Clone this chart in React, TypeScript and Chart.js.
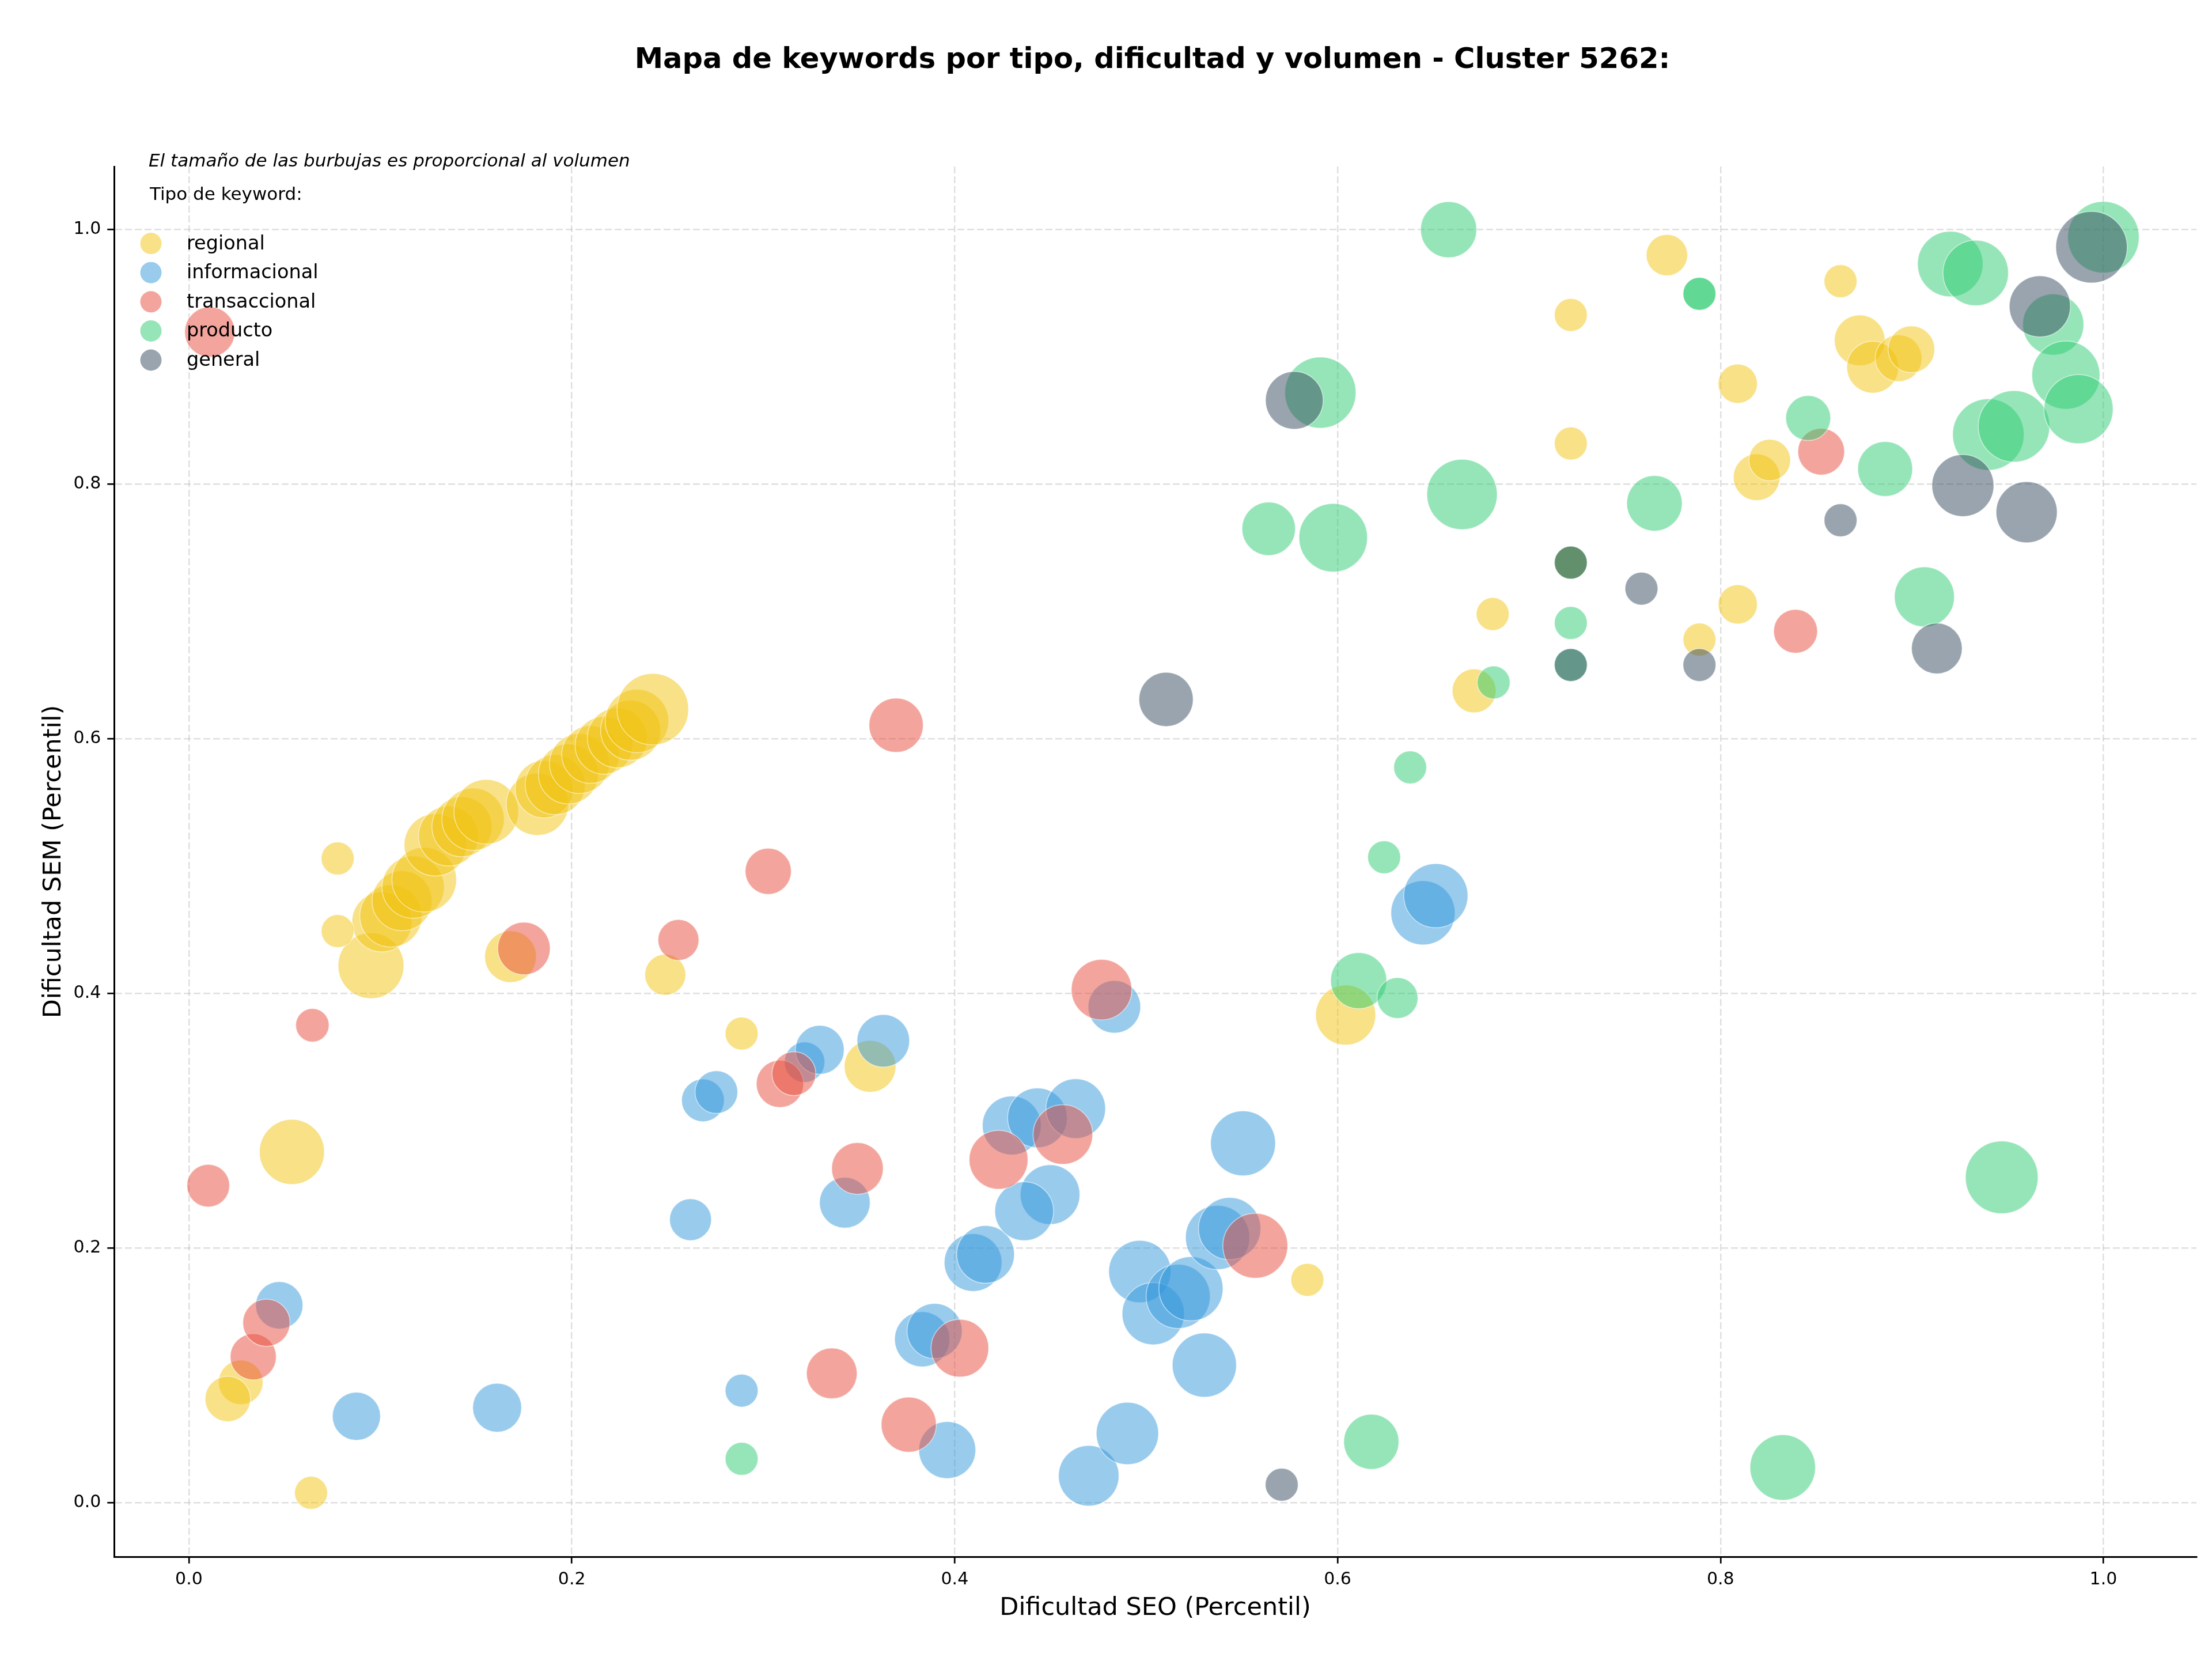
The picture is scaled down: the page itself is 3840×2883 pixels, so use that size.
import React, { useEffect, useRef } from 'react';
import { Chart, registerables } from 'chart.js';

Chart.register(...registerables);

const TITLE = 'Mapa de keywords por tipo, dificultad y volumen - Cluster 5262:';
const X_LABEL = 'Dificultad SEO (Percentil)';
const Y_LABEL = 'Dificultad SEM (Percentil)';
const NOTE = 'El tamaño de las burbujas es proporcional al volumen';
const LEGEND_TITLE = 'Tipo de keyword:';
const TICKS = [0, 0.2, 0.4, 0.6, 0.8, 1.0];
const CATEGORIES = ['regional', 'informacional', 'transaccional', 'producto', 'general'];
const COLORS = ['#F1C40F', '#3498DB', '#E74C3C', '#2ECC71', '#34495E'];

// regional
const regionalX = [0.0951, 0.1008, 0.1055, 0.1113, 0.1171, 0.1229, 0.1287, 0.1356, 0.1426, 0.1484, 0.1553, 0.182, 0.1855, 0.1913, 0.1982, 0.204, 0.2098, 0.2168, 0.2238, 0.2307, 0.234, 0.2423,
  0.0777, 0.0777, 0.168, 0.2488, 0.2887, 0.0538, 0.0271, 0.0203, 0.0638, 0.3558, 0.5842, 0.6042, 0.6713, 0.681, 0.7218, 0.7218, 0.7218, 0.772, 0.789, 0.809, 0.809, 0.8189, 0.8257, 0.8627, 0.8727, 0.8795, 0.893, 0.8997];
const regionalY = [0.4218, 0.4562, 0.4609, 0.4728, 0.4835, 0.4893, 0.5167, 0.5237, 0.5309, 0.5368, 0.5427, 0.5486, 0.5605, 0.564, 0.5724, 0.5806, 0.5877, 0.5949, 0.6008, 0.6067, 0.614, 0.6233,
  0.506, 0.449, 0.4289, 0.4147, 0.3685, 0.2755, 0.0945, 0.0815, 0.0077, 0.3427, 0.175, 0.383, 0.6377, 0.698, 0.7384, 0.832, 0.933, 0.98, 0.678, 0.879, 0.7056, 0.8055, 0.819, 0.9595, 0.913, 0.892, 0.899, 0.906];
const regionalVol = [400, 333, 359, 333, 359, 386, 359, 333, 333, 359, 386, 359, 308, 333, 333, 333, 308, 308, 333, 333, 372, 473,
  100, 100, 247, 155, 100, 390, 183, 191, 100, 247, 100, 333, 178, 100, 100, 100, 100, 158, 100, 142, 142, 202, 160, 100, 238, 249, 202, 202];

// informacional
const informacionalX = [0.0472, 0.0875, 0.161, 0.262, 0.2685, 0.2755, 0.2887, 0.3216, 0.3295, 0.3627, 0.3426, 0.383, 0.3895, 0.3961, 0.4096, 0.4161, 0.4298, 0.4432, 0.4632, 0.4498, 0.4363, 0.47, 0.4834, 0.4902, 0.4967, 0.5037, 0.5167, 0.5234, 0.5304, 0.5373, 0.5436, 0.5506, 0.6446, 0.6513];
const informacionalY = [0.155, 0.0678, 0.0746, 0.2223, 0.316, 0.3225, 0.088, 0.346, 0.3557, 0.3628, 0.2356, 0.1283, 0.1348, 0.0413, 0.1886, 0.195, 0.2963, 0.3023, 0.3095, 0.242, 0.2289, 0.0211, 0.3895, 0.0543, 0.1815, 0.1484, 0.162, 0.168, 0.108, 0.2083, 0.2153, 0.2822, 0.4633, 0.4768];
const informacionalVol = [207, 214, 221, 162, 169, 169, 100, 151, 221, 255, 238, 281, 281, 300, 308, 308, 320, 329, 329, 329, 320, 339, 255, 359, 359, 359, 381, 381, 381, 381, 359, 390, 381, 381];

// transaccional
const transaccionalX = [0.0101, 0.0109, 0.0336, 0.0405, 0.0645, 0.175, 0.2557, 0.3026, 0.3087, 0.316, 0.3358, 0.3492, 0.3694, 0.376, 0.4027, 0.4229, 0.4565, 0.4767, 0.557, 0.8392, 0.8526];
const transaccionalY = [0.249, 0.9196, 0.1145, 0.1413, 0.375, 0.4353, 0.442, 0.496, 0.329, 0.337, 0.1015, 0.2625, 0.6107, 0.0613, 0.1213, 0.2693, 0.2892, 0.403, 0.2018, 0.6845, 0.8256];
const transaccionalVol = [169, 234, 197, 207, 103, 255, 155, 197, 207, 178, 238, 247, 272, 281, 308, 320, 329, 339, 390, 178, 202];

// producto
const productoX = [0.2887, 0.564, 0.591, 0.5977, 0.611, 0.6176, 0.6243, 0.6313, 0.6379, 0.658, 0.665, 0.6815, 0.7218, 0.7218, 0.7218, 0.7655, 0.789, 0.789, 0.8325, 0.8458, 0.886, 0.9065, 0.92, 0.9333, 0.9399, 0.9469, 0.9533, 0.9738, 0.9804, 0.987, 1.0];
const productoY = [0.0344, 0.765, 0.872, 0.758, 0.41, 0.0478, 0.507, 0.3964, 0.5776, 1.0, 0.792, 0.6443, 0.691, 0.7384, 0.658, 0.785, 0.9496, 0.9496, 0.0276, 0.852, 0.812, 0.7115, 0.973, 0.966, 0.839, 0.2555, 0.8455, 0.9255, 0.8857, 0.859, 0.994];
const productoVol = [100, 264, 469, 434, 291, 281, 100, 155, 100, 291, 458, 100, 100, 100, 100, 284, 100, 100, 397, 187, 278, 333, 397, 397, 473, 489, 473, 346, 429, 443, 473];

// general
const generalX = [0.5104, 0.5708, 0.5774, 0.7218, 0.7218, 0.7587, 0.789, 0.8627, 0.913, 0.9266, 0.9599, 0.9668, 0.9938];
const generalY = [0.631, 0.0141, 0.8659, 0.7384, 0.658, 0.718, 0.658, 0.7717, 0.671, 0.799, 0.778, 0.9397, 0.9862];
const generalVol = [272, 100, 308, 100, 100, 100, 100, 100, 238, 355, 346, 346, 473];

const SERIES_X = [regionalX, informacionalX, transaccionalX, productoX, generalX];
const SERIES_Y = [regionalY, informacionalY, transaccionalY, productoY, generalY];
const SERIES_VOL = [regionalVol, informacionalVol, transaccionalVol, productoVol, generalVol];

const W = 3840;
const H = 2883;
const FONT = "'DejaVu Sans', sans-serif";

function rgba(hex: string, a: number) {
  const n = parseInt(hex.slice(1), 16);
  return `rgba(${(n >> 16) & 255},${(n >> 8) & 255},${n & 255},${a})`;
}

const volToRadius = (v: number) => 2.85 * Math.sqrt(v);

const textPlugin = {
  id: 'texts',
  afterDraw(chart: any) {
    const ctx = chart.ctx;
    const area = chart.chartArea;
    ctx.save();
    ctx.fillStyle = '#000';
    // title
    ctx.font = `bold 49.6px ${FONT}`;
    ctx.textAlign = 'center';
    ctx.textBaseline = 'alphabetic';
    ctx.fillText(TITLE, (area.left + area.right) / 2 - 5, 118);
    // x label
    ctx.font = `43px ${FONT}`;
    ctx.fillText(X_LABEL, (area.left + area.right) / 2, 2803);
    // y label
    ctx.save();
    ctx.translate(105, (area.top + area.bottom) / 2);
    ctx.rotate(-Math.PI / 2);
    ctx.fillText(Y_LABEL, 0, 0);
    ctx.restore();
    // note
    ctx.textAlign = 'left';
    ctx.font = `italic 31px ${FONT}`;
    ctx.fillText(NOTE, 258, 289);
    // legend title
    ctx.font = `31px ${FONT}`;
    ctx.fillText(LEGEND_TITLE, 260, 347);
    // legend items
    ctx.font = `33.5px ${FONT}`;
    CATEGORIES.forEach((c, i) => {
      const y = 422.6 + i * 50.6;
      ctx.beginPath();
      ctx.arc(262, y, 18.5, 0, Math.PI * 2);
      ctx.fillStyle = rgba(COLORS[i], 0.5);
      ctx.fill();
      ctx.fillStyle = '#000';
      ctx.fillText(c, 324, y + 10);
    });
    ctx.restore();
  },
};

export default function App() {
  const ref = useRef<HTMLCanvasElement | null>(null);
  useEffect(() => {
    document.body.style.margin = '0';
    const canvas = ref.current;
    if (!canvas) return;
    const datasets = CATEGORIES.map((c, i) => ({
      label: c,
      data: SERIES_X[i].map((x, j) => ({ x, y: SERIES_Y[i][j], r: volToRadius(SERIES_VOL[i][j]) })),
      backgroundColor: rgba(COLORS[i], 0.5),
      borderColor: 'rgba(255,255,255,0.55)',
      borderWidth: 1.5,
      order: CATEGORIES.length - i,
    }));
    const gridCommon = {
      color: 'rgba(176,176,176,0.4)',
      lineWidth: 2.5,
      drawTicks: true,
      tickLength: 11.7,
      tickColor: '#000',
      tickWidth: 2.7,
    };
    const zeroPad = (s: any) => {
      s.paddingLeft = 0;
      s.paddingRight = 0;
      s.paddingTop = 0;
      s.paddingBottom = 0;
    };
    const chart = new Chart(canvas, {
      type: 'bubble',
      data: { datasets },
      options: {
        responsive: false,
        maintainAspectRatio: false,
        devicePixelRatio: 1,
        animation: false,
        events: [],
        layout: { autoPadding: false, padding: { top: 289, right: 27, left: 0, bottom: 0 } },
        plugins: { legend: { display: false }, title: { display: false }, tooltip: { enabled: false } },
        scales: {
          x: {
            type: 'linear',
            min: -0.0391,
            max: 1.0486,
            afterBuildTicks: (s: any) => { s.ticks = TICKS.map((v) => ({ value: v })); },
            afterFit: (s: any) => { s.height = H - 2702; zeroPad(s); },
            ticks: {
              font: { family: FONT, size: 30 },
              color: '#000',
              padding: 11,
              maxRotation: 0,
              autoSkip: false,
              callback: (v: any) => Number(v).toFixed(1),
            },
            grid: gridCommon,
            border: { display: true, color: '#000', width: 3, dash: [12, 5] },
          },
          y: {
            type: 'linear',
            min: -0.0425,
            max: 1.0496,
            afterBuildTicks: (s: any) => { s.ticks = TICKS.map((v) => ({ value: v })); },
            afterFit: (s: any) => { s.width = 198; zeroPad(s); },
            ticks: {
              font: { family: FONT, size: 30 },
              color: '#000',
              padding: 11,
              autoSkip: false,
              callback: (v: any) => Number(v).toFixed(1),
            },
            grid: gridCommon,
            border: { display: true, color: '#000', width: 3, dash: [12, 5] },
          },
        },
      } as any,
      plugins: [textPlugin],
    });
    return () => chart.destroy();
  }, []);
  return (
    <div style={{ width: W, height: H }}>
      <canvas ref={ref} width={W} height={H} style={{ display: 'block', width: W, height: H }} />
    </div>
  );
}
